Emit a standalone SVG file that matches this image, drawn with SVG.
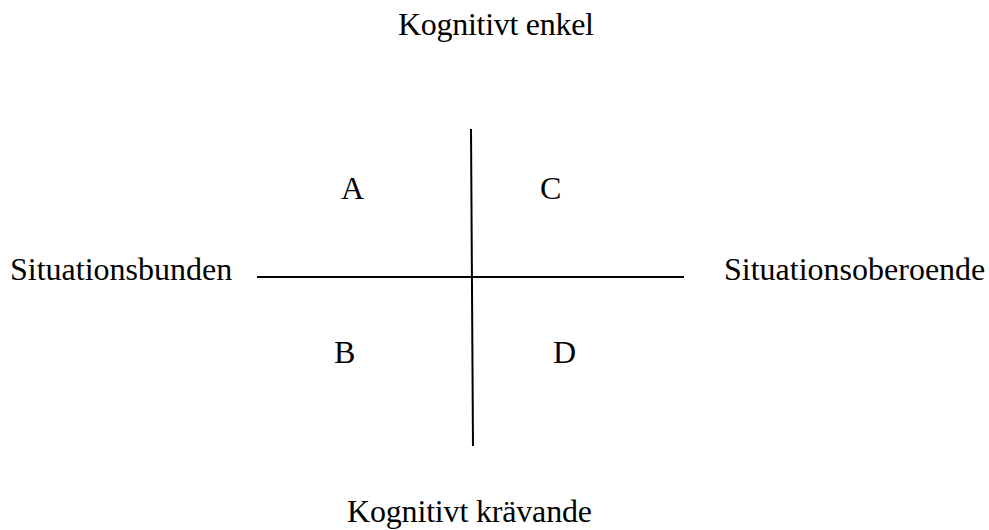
<svg xmlns="http://www.w3.org/2000/svg" width="989" height="530" viewBox="0 0 989 530">
<style>
text{font-family:"Liberation Serif","Times New Roman",serif;font-size:32px;fill:#000}
.ax{stroke:#000;stroke-width:2;fill:none}
</style>
<rect width="989" height="530" fill="#fff"/>
<g id="connectors">
<line class="ax" x1="471" y1="129" x2="473" y2="446"/>
<line class="ax" x1="257" y1="277" x2="684" y2="277"/>
</g>
<g id="top"><text x="398" y="35" textLength="196">Kognitivt enkel</text></g>
<g id="bottom"><text x="347" y="522" textLength="245">Kognitivt krävande</text></g>
<g id="left"><text x="10" y="280">Situationsbunden</text></g>
<g id="right"><text x="724" y="280">Situationsoberoende</text></g>
<g id="qa"><text x="341" y="199">A</text></g>
<g id="qc"><text x="540" y="199">C</text></g>
<g id="qb"><text x="334" y="363">B</text></g>
<g id="qd"><text x="553" y="363">D</text></g>
</svg>
